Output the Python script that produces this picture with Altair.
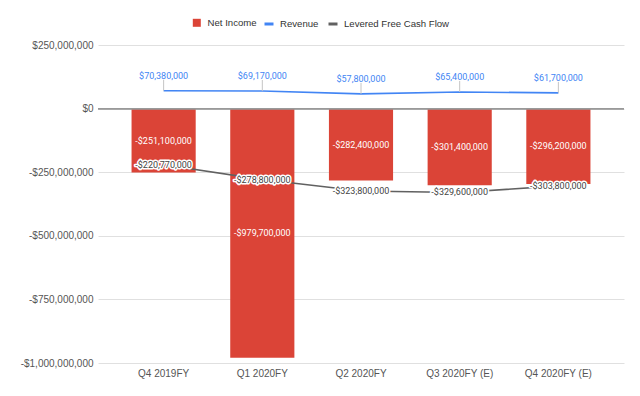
import altair as alt
import pandas as pd

quarters = ["Q4 2019FY", "Q1 2020FY", "Q2 2020FY", "Q3 2020FY (E)", "Q4 2020FY (E)"]
net_income = [-251_100_000, -979_700_000, -282_400_000, -301_400_000, -296_200_000]
revenue = [70_380_000, 69_170_000, 57_800_000, 65_400_000, 61_700_000]
fcf = [-220_770_000, -278_800_000, -323_800_000, -329_600_000, -303_800_000]
y_ticks = [250_000_000, 0, -250_000_000, -500_000_000, -750_000_000, -1_000_000_000]

RED = "#DB4437"
BLUE = "#4285F4"
GRAY = "#616161"
FONT = "Liberation Sans"
LFONT = "Roboto"


def money(v):
    return ("-$" if v < 0 else "$") + f"{abs(v):,}"


df = pd.DataFrame({
    "quarter": quarters,
    "NetIncome": net_income,
    "Revenue": revenue,
    "Levered Free Cash Flow": fcf,
})
df["ni_mid"] = df["NetIncome"] / 2
df["ni_label"] = [money(v) for v in net_income]
df["rev_label"] = [money(v) for v in revenue]
df["fcf_label"] = [money(v) for v in fcf]

x = alt.X(
    "quarter:N",
    sort=quarters,
    scale=alt.Scale(paddingInner=0.35, paddingOuter=0.34),
    axis=alt.Axis(title=None, labelAngle=0, ticks=False, domain=False, labelPadding=5,
                  labelFont=FONT, labelFontSize=10, labelColor="#555", grid=False),
)
yscale = alt.Scale(domain=[-1_000_000_000, 250_000_000], nice=False, zero=False)
yaxis = alt.Axis(values=y_ticks, title=None, ticks=False, domain=False,
                 labelPadding=5, labelFont=FONT, labelFontSize=10, labelColor="#555",
                 gridColor="#e0e0e0",
                 labelExpr="datum.value < 0 ? '-$' + format(-datum.value, ',') : '$' + format(datum.value, ',')")


def Y(field):
    return alt.Y(field, scale=yscale, axis=yaxis, title=None)


base = alt.Chart(df)

bars = base.transform_calculate(series="'Net Income'").mark_bar().encode(
    x=x,
    y=Y("NetIncome:Q"),
    fill=alt.Fill("series:N", scale=alt.Scale(domain=["Net Income"], range=[RED]),
                  legend=alt.Legend(orient="none", legendX=94, legendY=-27, title=None,
                                    symbolType="square", symbolSize=64, symbolStrokeWidth=0,
                                    labelFont=FONT, labelFontSize=9.6, labelColor="#333",
                                    labelOffset=6, padding=0)),
)

zero = base.mark_rule(color="#999", strokeWidth=1.3).encode(y=alt.datum(0))

lines = base.transform_fold(["Revenue", "Levered Free Cash Flow"], as_=["series", "value"]).mark_line(
    strokeWidth=1.6
).encode(
    x=x,
    y=Y("value:Q"),
    stroke=alt.Stroke("series:N",
                      scale=alt.Scale(domain=["Revenue", "Levered Free Cash Flow"], range=[BLUE, GRAY]),
                      legend=alt.Legend(orient="none", legendX=165, legendY=-27, title=None,
                                        direction="horizontal", symbolType="stroke", symbolSize=81,
                                        symbolStrokeWidth=3, columnPadding=3,
                                        labelFont=FONT, labelFontSize=9.6, labelColor="#333",
                                        labelOffset=5, padding=0)),
)

stems = base.mark_rule(color="#c4c4c4", strokeWidth=1, y2Offset=-11).encode(
    x=x, y=Y("Revenue:Q"), y2="Revenue:Q"
)

rev_text = base.mark_text(dy=-15, color=BLUE, font=LFONT, fontSize=9).encode(
    x=x, y=Y("Revenue:Q"), text="rev_label:N"
)

ni_text = base.mark_text(color="white", font=LFONT, fontSize=9).encode(
    x=x, y=Y("ni_mid:Q"), text="ni_label:N"
)

fcf_halo = base.mark_text(color="white", stroke="white", strokeWidth=3, strokeJoin="round",
                          font=LFONT, fontSize=9).encode(
    x=x, y=Y("Levered Free Cash Flow:Q"), text="fcf_label:N"
)
fcf_text = base.mark_text(color="#444", font=LFONT, fontSize=9).encode(
    x=x, y=Y("Levered Free Cash Flow:Q"), text="fcf_label:N"
)

chart = alt.layer(bars, zero, lines, stems, rev_text, ni_text, fcf_halo, fcf_text).properties(
    width=526,
    height=318,
    autosize=alt.AutoSizeParams(type="none"),
    padding={"left": 90, "top": 37, "right": 8, "bottom": 25},
    background="white",
).configure_view(stroke=None)

chart.save("out.html", embed_options={"renderer": "svg", "actions": False})
